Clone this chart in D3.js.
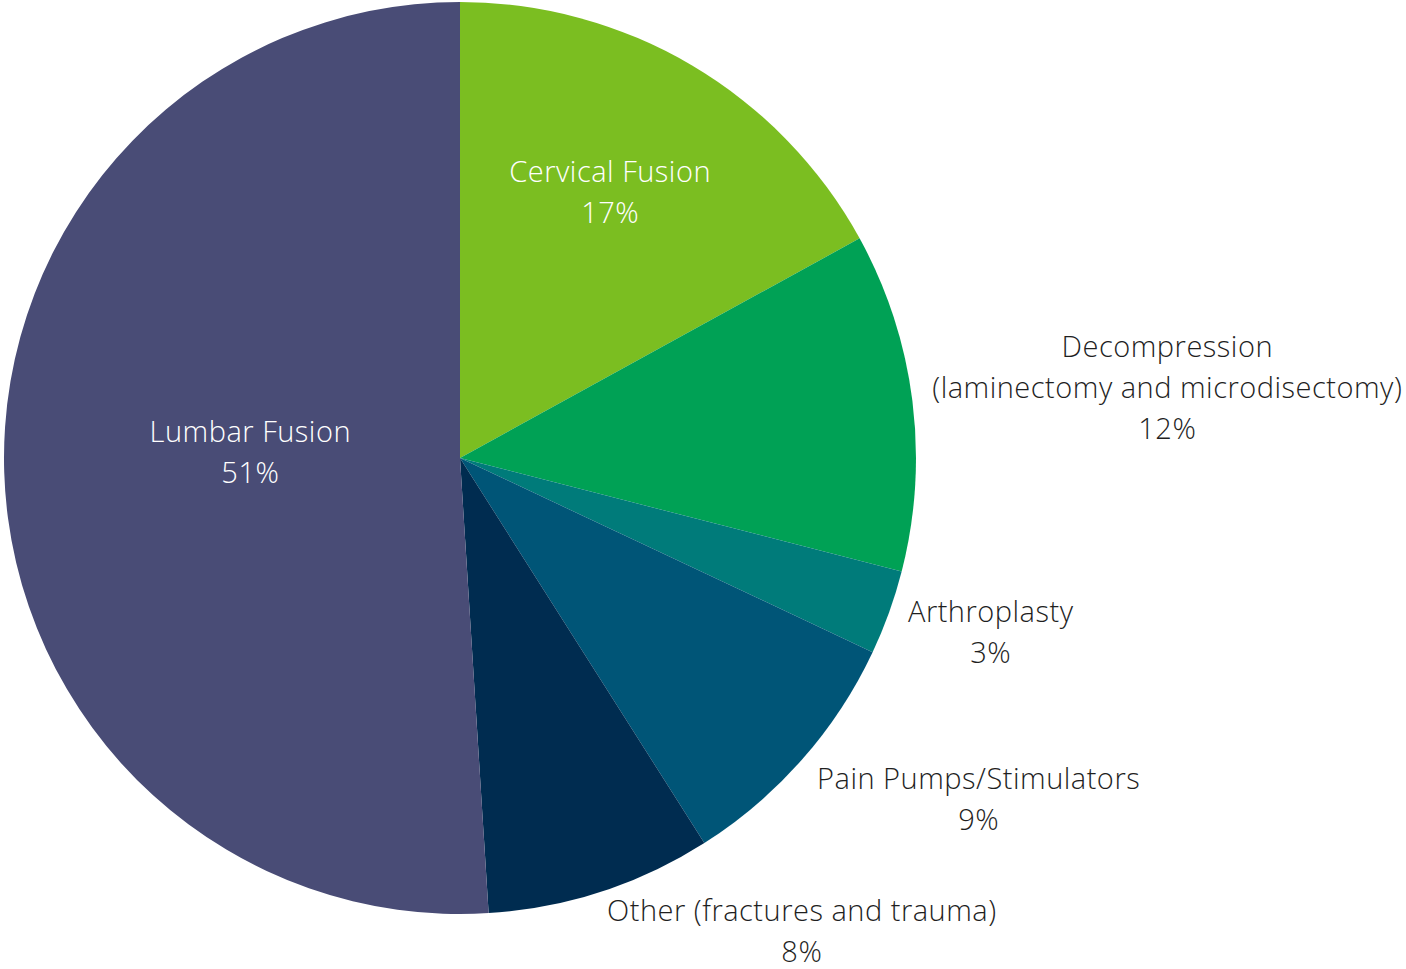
<!DOCTYPE html>
<html>
<head>
<meta charset="utf-8">
<script src="https://cdn.jsdelivr.net/npm/d3@7"></script>
<style>
  body { margin: 0; background: #fff; }
  text { font-family: "Open Sans", Lato, sans-serif; font-weight: 300; letter-spacing: 0.5px; }
</style>
</head>
<body>
<div id="chart"></div>
<script>
// slice data, clockwise from 12 o'clock
var categories = ["Cervical Fusion", "Decompression", "Arthroplasty", "Pain Pumps/Stimulators", "Other", "Lumbar Fusion"];
var labelLines = [
    ["Cervical Fusion"],
    ["Decompression", "(laminectomy and microdisectomy)"],
    ["Arthroplasty"],
    ["Pain Pumps/Stimulators"],
    ["Other (fractures and trauma)"],
    ["Lumbar Fusion"]
];
var shares = [17, 12, 3, 9, 8, 51];
var colors = ["#7bbe21", "#00a155", "#007b7a", "#005577", "#002c50", "#494c76"];
var insideLabel = [true, false, false, false, false, true];

var width = 1406,
    height = 969,
    cx = 460,
    cy = 458,
    radius = 456,
    fontSize = 29,
    lineH = 41;

var svg = d3.select("#chart")
    .append("svg")
    .attr("width", width)
    .attr("height", height);

var g = svg.append("g")
    .attr("transform", "translate(" + cx + "," + cy + ")");

var pie = d3.pie()
    .sort(null)
    .value(function (d) { return d.value; });

var data = categories.map(function (c, i) {
    return { name: c, value: shares[i], lines: labelLines[i], color: colors[i], inside: insideLabel[i] };
});

var arc = d3.arc()
    .innerRadius(0)
    .outerRadius(radius);

var arcs = g.selectAll(".arc")
    .data(pie(data))
    .enter().append("g")
    .attr("class", "arc");

arcs.append("path")
    .attr("d", arc)
    .style("fill", function (d) { return d.data.color; });

function clamp(v, lo, hi) { return Math.max(lo, Math.min(hi, v)); }

// labels
arcs.each(function (d) {
    var lines = d.data.lines.concat([d.data.value + "%"]);
    var mid = (d.startAngle + d.endAngle) / 2;
    var sx = Math.sin(mid), sy = -Math.cos(mid);

    var t = d3.select(this).append("text")
        .attr("text-anchor", "middle")
        .style("font-size", fontSize + "px")
        .style("fill", d.data.inside ? "#ffffff" : "#1f1f1f");

    lines.forEach(function (l, i) {
        t.append("tspan").attr("x", 0).attr("dy", i === 0 ? 0 : lineH).text(l);
    });

    var bb = t.node().getBBox();
    var h = lines.length * lineH;
    var px, py;
    if (d.data.inside) {
        // inside: along the mid angle
        var r = d.value > 40 ? radius * 0.46 : radius * 0.647;
        px = r * sx;
        py = r * sy - 11;
    } else {
        // outside: box hugging the rim, like spreadsheet "outside end"
        var ar = radius + 20;
        px = ar * sx + bb.width / 2 * clamp(4 * sx, -1, 1);
        py = radius * sy + h / 2 * clamp(1.5 * sy, -1, 1);
    }
    var top = py - h / 2;
    t.attr("transform", "translate(" + px + "," + (top + lineH * 0.72) + ")");
});
</script>
</body>
</html>
